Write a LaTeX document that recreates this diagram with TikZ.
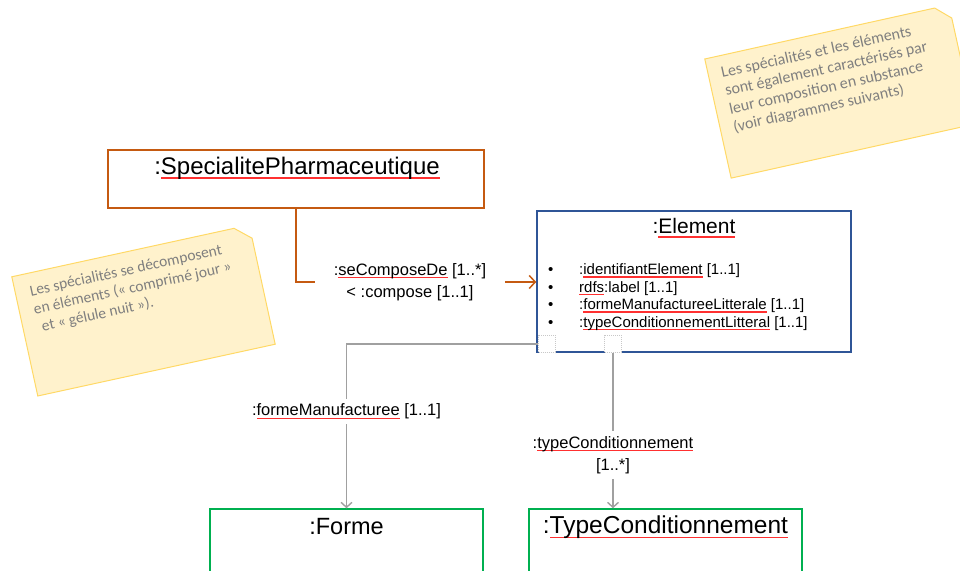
\documentclass[tikz,border=0pt]{standalone}
\usepackage{fontspec}
\setmainfont{Liberation Sans}
\newfontfamily\notefont{Carlito}
\usetikzlibrary{arrows.meta,positioning}

\definecolor{specorange}{HTML}{C55A11}
\definecolor{elemblue}{HTML}{2F5597}
\definecolor{formgreen}{HTML}{00B050}
\definecolor{linkgray}{HTML}{A0A0A0}
\definecolor{portgray}{HTML}{C8C8C8}
\definecolor{notefill}{HTML}{FFF2CC}
\definecolor{noteline}{HTML}{FFD966}
\definecolor{notetext}{HTML}{7F7F7F}
\definecolor{squiggle}{HTML}{FF3030}

% red spell-check underline
\newlength\spellwd
\newcommand\spell[1]{\settowidth\spellwd{#1}\rlap{\tikz[baseline=0pt]\fill[squiggle] (0pt,-0.35ex) rectangle (\spellwd,-0.35ex+1.3pt);}#1}

\tikzset{
	classbox/.style={draw, line width=1.5pt, fill=white, inner sep=0pt},
	classtitle/.style={inner sep=0pt},
	attrtext/.style={anchor=west, inner sep=0pt, font=\fontsize{15}{17}\selectfont},
	port/.style={draw=portgray, dash pattern=on 1pt off 1pt, fill=white, minimum size=17pt, inner sep=0pt},
	linklabel/.style={align=center, font=\fontsize{16.5}{22}\selectfont},
	orangelink/.style={draw=specorange, line width=1.6pt},
	graylink/.style={draw=linkgray, line width=1.6pt},
	linkhead/.style={-{Straight Barb[length=5pt,width=11pt,line width=1.4pt]}},
	bighead/.style={-{Straight Barb[length=6pt,width=13pt,line width=1.5pt]}},
	note/.style={draw=noteline, fill=notefill, line width=1pt},
	notetxt/.style={transform shape, anchor=north west, align=left, inner sep=0pt, text=notetext, font=\notefont\fontsize{15.5}{18.5}\selectfont},
}

\begin{document}
\begin{tikzpicture}[x=1pt, y=-1pt]

% frame %{{{2

	\useasboundingbox (0,0) rectangle (960,570);
	\clip (0,0) rectangle (960,570);

% notes %{{{2

	\begin{scope}[shift={(143.5,310.5)}, rotate=12.3]
		\path[note] (-121.5,-61) -- (106,-61) -- (121.5,-47.5) -- (121.5,61) -- (-121.5,61) -- cycle;
		\node[notetxt] (note1) at (-107,-49) {Les spécialités se décomposent\\en éléments (« comprimé jour »\\\hspace*{4pt}et « gélule nuit »).};
	\end{scope}

	\begin{scope}[shift={(840,91.5)}, rotate=12.5]
		\path[note] (-125,-61) -- (110.5,-61) -- (125,-47.5) -- (125,61) -- (-125,61) -- cycle;
		\node[notetxt, font=\notefont\fontsize{16}{18.5}\selectfont] (note2) at (-112,-50) {Les spécialités et les éléments\\sont également caractérisés par\\leur composition en substance\\(voir diagrammes suivants)};
	\end{scope}

% classes %{{{2

	\node[classbox, draw=specorange, minimum width=376pt, minimum height=58pt] (spec) at (296,179) {};
	\node[classtitle, font=\fontsize{24}{26}\selectfont] (spectitle) at (297,168) {:\spell{SpecialitePharmaceutique}};

	\node[classbox, draw=elemblue, minimum width=314pt, minimum height=141pt] (elem) at (694,281.5) {};
	\node[classtitle, font=\fontsize{21}{24}\selectfont] (elemtitle) at (694,228) {:\spell{Element}};

	\node[classbox, draw=formgreen, minimum width=273pt, minimum height=91pt] (forme) at (346.5,554.5) {};
	\node[classtitle, font=\fontsize{23.5}{26}\selectfont] (formetitle) at (346.5,527) {:Forme};

	\node[classbox, draw=formgreen, minimum width=273pt, minimum height=91pt] (tc) at (665.5,554.5) {};
	\node[classtitle, font=\fontsize{24.5}{27}\selectfont] (tctitle) at (665.5,527) {:\spell{TypeConditionnement}};

% attributes %{{{2

	\foreach \y/\txt [count=\i] in {
		271/{:\spell{identifiantElement} [1..1]},
		288.5/{\spell{rdfs}:label [1..1]},
		306/{:\spell{formeManufactureeLitterale} [1..1]},
		323.5/{:\spell{typeConditionnementLitteral} [1..1]}} {
		\node[attrtext] (dot\i) at (548,\y) {\textbullet};
		\node[attrtext] (attr\i) at (579,\y) {\txt};
	}

% ports %{{{2

	\node[port] (port1) at (547,344) {};
	\node[port] (port2) at (613,344) {};

% links %{{{2

	\node[linklabel, inner xsep=19pt, inner ysep=0pt] (compose) at (410,282) {:\spell{seComposeDe} [1..*]\\< :compose [1..1]};
	\draw[orangelink] (spec.south) |- (compose.west);
	\draw[orangelink, bighead] (compose.east) -- (compose.east -| elem.west);

	\node[linklabel, inner ysep=5pt] (formelbl) at (346.5,411.5) {:\spell{formeManufacturee} [1..1]};
	\draw[graylink] (port1.west) -| (formelbl.north);
	\draw[graylink, linkhead] (formelbl.south) -- (forme.north);

	\node[linklabel, inner ysep=5pt] (tclbl) at (613,455) {:\spell{typeConditionnement}\\{}[1..*]};
	\draw[graylink] (port2.south) -- (tclbl.north);
	\draw[graylink, linkhead] (tclbl.south) -- (tclbl.south |- tc.north);

% closing %{{{2

\end{tikzpicture}
\end{document}
